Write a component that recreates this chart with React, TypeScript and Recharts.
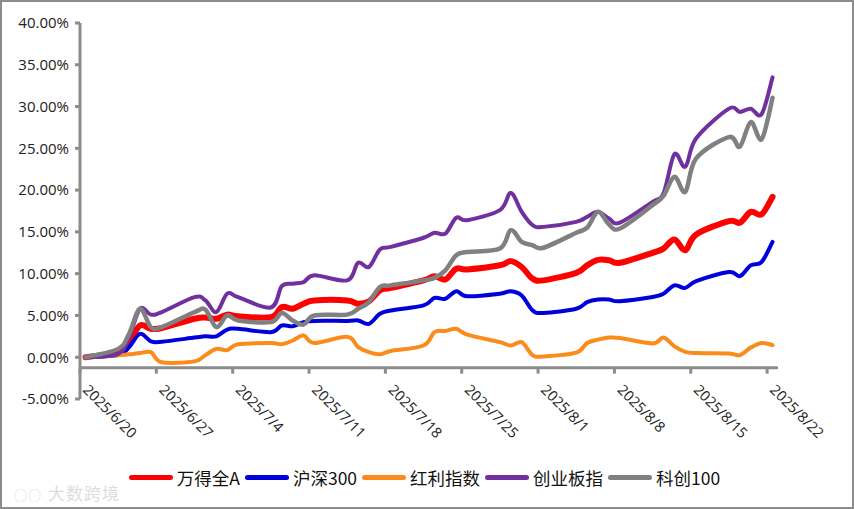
import React from 'react'
import { LineChart, Line, XAxis, YAxis, ReferenceLine } from 'recharts'

// trading days, 2025/6/20 - 2025/8/22
const dates = [
  '2025/6/20', '2025/6/23', '2025/6/24', '2025/6/25', '2025/6/26', '2025/6/27',
  '2025/6/30', '2025/7/1', '2025/7/2', '2025/7/3', '2025/7/4',
  '2025/7/7', '2025/7/8', '2025/7/9', '2025/7/10', '2025/7/11',
  '2025/7/14', '2025/7/15', '2025/7/16', '2025/7/17', '2025/7/18',
  '2025/7/21', '2025/7/22', '2025/7/23', '2025/7/24', '2025/7/25',
  '2025/7/28', '2025/7/29', '2025/7/30', '2025/7/31', '2025/8/1',
  '2025/8/4', '2025/8/5', '2025/8/6', '2025/8/7', '2025/8/8',
  '2025/8/11', '2025/8/12', '2025/8/13', '2025/8/14', '2025/8/15',
  '2025/8/18', '2025/8/19', '2025/8/20', '2025/8/21', '2025/8/22',
]

// cumulative return, %
const windA = [
  0, 0.6, 1.8, 3.8, 3.4, 3.5,
  4.6, 4.75, 4.6, 5.1, 4.9,
  4.8, 6.0, 5.8, 6.4, 6.8,
  6.8, 6.4, 6.7, 8.0, 8.3,
  9.2, 9.7, 9.3, 10.6, 10.5,
  11.0, 11.5, 10.8, 9.4, 9.2,
  10.1, 11.0, 11.65, 11.6, 11.3,
  12.5, 13.0, 14.1, 12.8, 14.7,
  16.3, 16.1, 17.4, 17.1, 19.2,
]
const hs300 = [
  0, 0.25, 1.2, 2.8, 1.9, 1.85,
  2.35, 2.5, 2.5, 3.3, 3.4,
  3.0, 3.8, 3.7, 4.2, 4.35,
  4.35, 4.4, 4.0, 5.2, 5.6,
  6.2, 7.1, 7.0, 7.9, 7.3,
  7.6, 7.9, 7.4, 5.6, 5.3,
  5.8, 6.6, 6.9, 6.9, 6.7,
  7.2, 7.6, 8.6, 8.3, 9.1,
  10.2, 9.7, 11.0, 11.4, 13.8,
]
const dividend = [
  0, 0.25, 0.35, 0.5, 0.6, -0.6,
  -0.5, 0.25, 1.0, 0.85, 1.55,
  1.7, 1.55, 2.0, 2.6, 1.7,
  2.45, 1.2, 0.6, 0.35, 0.75,
  1.4, 3.0, 3.15, 3.4, 2.7,
  1.8, 1.4, 1.8, 0.25, 0.1,
  0.55, 1.7, 2.1, 2.35, 2.3,
  1.65, 2.35, 1.3, 0.65, 0.5,
  0.45, 0.25, 1.15, 1.7, 1.45,
]
const chinext = [
  0, 0.4, 2.4, 5.8, 5.1, 5.4,
  7.2, 6.8, 5.4, 7.6, 7.2,
  5.95, 8.5, 8.8, 9.0, 9.8,
  9.2, 11.3, 10.8, 12.9, 13.2,
  14.3, 14.9, 14.8, 16.7, 16.4,
  17.6, 19.65, 17.4, 15.8, 15.6,
  16.2, 16.8, 17.4, 16.6, 16.1,
  18.6, 19.6, 24.3, 22.8, 26.2,
  29.75, 29.35, 29.75, 29.1, 33.5,
]
const star100 = [
  0, 1.0, 2.8, 5.8, 3.6, 3.6,
  5.4, 5.7, 3.6, 5.0, 4.4,
  4.2, 5.3, 4.4, 3.9, 5.0,
  5.1, 5.8, 6.6, 8.4, 8.6,
  9.2, 9.5, 10.4, 12.2, 12.6,
  13.0, 15.2, 13.8, 13.4, 13.1,
  14.9, 15.5, 17.4, 15.9, 15.4,
  18.2, 19.3, 21.6, 19.8, 23.8,
  26.35, 25.2, 28.15, 26.1, 31.05,
]

const xTickLabels = [
  '2025/6/20', '2025/6/27', '2025/7/4', '2025/7/11', '2025/7/18',
  '2025/7/25', '2025/8/1', '2025/8/8', '2025/8/15', '2025/8/22',
]
const yTicks = [-5, 0, 5, 10, 15, 20, 25, 30, 35, 40]

const series = [
  { key: 'windA', name: '万得全A', color: '#FF0000', width: 6 },
  { key: 'hs300', name: '沪深300', color: '#0000DD', width: 4 },
  { key: 'dividend', name: '红利指数', color: '#FB8C1C', width: 4 },
  { key: 'chinext', name: '创业板指', color: '#7030A0', width: 4 },
  { key: 'star100', name: '科创100', color: '#808080', width: 4.5 },
]

const values: Record<string, number[]> = { windA, hs300, dividend, chinext, star100 }

const dayOf = (s: string) => {
  const [y, m, d] = s.split('/').map(Number)
  const [y0, m0, d0] = dates[0].split('/').map(Number)
  return Math.round((Date.UTC(y, m - 1, d) - Date.UTC(y0, m0 - 1, d0)) / 86400000)
}

// points sit in the middle of their day slot, ticks on the slot edge
const data = dates.map((d, i) => {
  const row: Record<string, number | string> = { date: d, day: dayOf(d) + 0.5 }
  series.forEach((s) => { row[s.key] = values[s.key][i] })
  return row
})
const tickDays = xTickLabels.map(dayOf)
const labelOf: Record<number, string> = {}
xTickLabels.forEach((l) => { labelOf[dayOf(l)] = l })

// Excel-style smoothed line (catmull-rom through every point)
const smoothCurve = (ctx: any) => {
  let pts: number[][] = []
  return {
    areaStart() {},
    areaEnd() {},
    lineStart() { pts = [] },
    point(x: number, y: number) { pts.push([+x, +y]) },
    lineEnd() {
      if (!pts.length) return
      ctx.moveTo(pts[0][0], pts[0][1])
      for (let i = 0; i < pts.length - 1; i++) {
        const p0 = pts[i - 1] || pts[i]
        const p1 = pts[i]
        const p2 = pts[i + 1]
        const p3 = pts[i + 2] || p2
        ctx.bezierCurveTo(
          p1[0] + (p2[0] - p0[0]) / 6, p1[1] + (p2[1] - p0[1]) / 6,
          p2[0] - (p3[0] - p1[0]) / 6, p2[1] - (p3[1] - p1[1]) / 6,
          p2[0], p2[1],
        )
      }
    },
  }
}

const W = 854
const H = 509
const TOP = 23
const BOTTOM = 110
const Y_MIN = -5
const Y_MAX = 40
const CROSS = -1.25
const AXIS = '#8C8C8C'
const FONT = "'Noto Sans CJK SC', 'Noto Sans', sans-serif"
const NUM_FONT = "'Open Sans', 'Noto Sans', sans-serif"

const plotH = H - TOP - BOTTOM
const crossY = TOP + ((Y_MAX - CROSS) / (Y_MAX - Y_MIN)) * plotH

const XTick = ({ x, payload }: any) => {
  const tx = x + 2
  const ty = crossY + 23
  return (
    <g>
      <line x1={x} x2={x} y1={crossY} y2={crossY + 6} stroke={AXIS} strokeWidth={3} />
      <text x={tx} y={ty} transform={`rotate(45, ${tx}, ${ty})`} textAnchor="start"
        fontSize={14.5} fill="#222" fontFamily={NUM_FONT}>
        {labelOf[payload.value]}
      </text>
    </g>
  )
}

const App = () => {
  return (
    <div style={{ position: 'absolute', left: 0, top: 0, width: W, height: H, boxSizing: 'border-box',
      border: `2px solid ${AXIS}`, background: '#fff', fontFamily: FONT }}>
      <div style={{ position: 'absolute', left: -2, top: -2 }}>
        <LineChart width={W} height={H} data={data} margin={{ top: TOP, right: 76, bottom: 0, left: 0 }}>
          <XAxis type="number" dataKey="day" domain={[0, 64]} ticks={tickDays} interval={0}
            height={BOTTOM} axisLine={false} tickLine={false} tickSize={0} tickMargin={0}
            tick={<XTick />} allowDataOverflow />
          <YAxis type="number" domain={[Y_MIN, Y_MAX]} ticks={yTicks} interval={0} width={80}
            axisLine={{ stroke: AXIS, strokeWidth: 3 }} tickLine={{ stroke: AXIS, strokeWidth: 3 }}
            tickSize={5} tickMargin={6}
            tick={{ fontSize: 15, fill: '#222', fontFamily: NUM_FONT }}
            tickFormatter={(v: number) => `${v.toFixed(2)}%`} />
          <ReferenceLine y={CROSS} stroke={AXIS} strokeWidth={3} />
          {series.map((s) => (
            <Line key={s.key} dataKey={s.key} name={s.name} type={smoothCurve as any} stroke={s.color}
              strokeWidth={s.width} dot={false} strokeLinecap="round" strokeLinejoin="round"
              isAnimationActive={false} />
          ))}
        </LineChart>
      </div>
      <div style={{ position: 'absolute', left: 0, right: 0, top: 463, display: 'flex',
        justifyContent: 'center', alignItems: 'center', fontSize: 17.5, color: '#111' }}>
        {series.map((s) => (
          <div key={s.key} style={{ display: 'flex', alignItems: 'center', marginRight: 5 }}>
            <span style={{ display: 'inline-block', width: 44, height: 5, borderRadius: 3,
              background: s.color, marginRight: 4 }} />
            <span>{s.name}</span>
          </div>
        ))}
      </div>
      <div style={{ position: 'absolute', left: 12, top: 478, fontSize: 17, color: '#DDDDDD',
        letterSpacing: 1 }}>
        <span style={{ fontSize: 13, marginRight: 6 }}>○○</span>大数跨境
      </div>
    </div>
  )
}

export default App
